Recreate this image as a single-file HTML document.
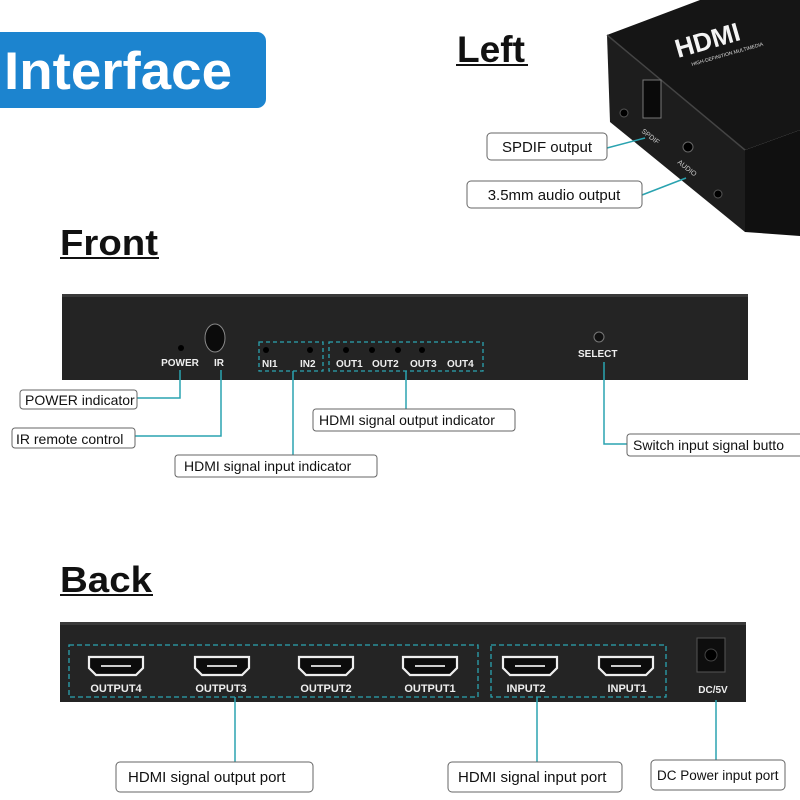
<!DOCTYPE html>
<html><head><meta charset="utf-8"><style>
html,body{margin:0;padding:0;background:#fff;}
svg{display:block;font-family:"Liberation Sans",Arial,sans-serif;}
</style></head><body>
<svg width="800" height="800" viewBox="0 0 800 800" xmlns="http://www.w3.org/2000/svg">
<defs>
<symbol id="hd" viewBox="0 0 58 22">
<path d="M2,2 H56 V13 L49,20 H9 L2,13 Z" fill="#0c0c0c" stroke="#eee" stroke-width="2.2"/>
<rect x="14" y="10" width="30" height="2" fill="#ccc"/>
</symbol>
</defs>
<!-- Interface -->
<rect x="-10" y="32" width="276" height="76" rx="9" fill="#1c84cf"/>
<text x="4" y="89" font-size="53" font-weight="bold" fill="#fff" textLength="228" lengthAdjust="spacingAndGlyphs">Interface</text>
<!-- Left -->
<text x="457" y="62" font-size="37" font-weight="bold" fill="#111" textLength="68" lengthAdjust="spacingAndGlyphs">Left</text>
<rect x="456" y="64" width="72" height="2" fill="#111"/>
<!-- device -->
<polygon points="607,35 700,0 800,0 800,130 745,150" fill="#151515"/>
<polygon points="607,35 745,150 745,232 610,122" fill="#1d1d1d"/>
<polygon points="745,150 800,130 800,236 745,232" fill="#101010"/>
<line x1="607" y1="35" x2="745" y2="150" stroke="#444" stroke-width="1.5"/>
<text x="0" y="0" font-size="26" font-weight="bold" fill="#f4f4f4" transform="translate(678,58) rotate(-16)">HDMI</text>
<text x="0" y="0" font-size="5" fill="#ddd" transform="translate(692,66) rotate(-16)">HIGH-DEFINITION MULTIMEDIA</text>
<rect x="643" y="80" width="18" height="38" fill="#0a0a0a" stroke="#777" stroke-width="1"/>
<circle cx="624" cy="113" r="4" fill="#000" stroke="#555"/>
<circle cx="688" cy="147" r="5" fill="#000" stroke="#666"/>
<circle cx="718" cy="194" r="4" fill="#000" stroke="#555"/>
<text x="0" y="0" font-size="7" fill="#ccc" transform="translate(641,132) rotate(38)">SPDIF</text>
<text x="0" y="0" font-size="7" fill="#ccc" transform="translate(677,163) rotate(38)">AUDIO</text>
<line x1="607" y1="148" x2="645" y2="138" stroke="#2aa3b0" stroke-width="1.5"/>
<line x1="642" y1="195" x2="686" y2="178" stroke="#2aa3b0" stroke-width="1.5"/>
<rect x="487" y="133" width="120" height="27" rx="4" fill="#fff" stroke="#666"/>
<text x="547" y="152" font-size="15" text-anchor="middle" fill="#111">SPDIF output</text>
<rect x="467" y="181" width="175" height="27" rx="4" fill="#fff" stroke="#666"/>
<text x="554" y="200" font-size="15" text-anchor="middle" fill="#111">3.5mm audio output</text>
<!-- Front -->
<text x="60" y="255" font-size="36" font-weight="bold" fill="#111" textLength="98" lengthAdjust="spacingAndGlyphs">Front</text>
<rect x="60" y="257" width="99" height="2" fill="#111"/>
<rect x="62" y="294" width="686" height="86" fill="#242424"/>
<rect x="62" y="294" width="686" height="3" fill="#3a3a3a"/>
<circle cx="181" cy="348" r="3" fill="#000"/>
<ellipse cx="215" cy="338" rx="10" ry="14" fill="#0b0b0b" stroke="#888" stroke-width="1"/>
<text x="180" y="366" font-size="10" font-weight="bold" fill="#eee" text-anchor="middle">POWER</text>
<text x="219" y="366" font-size="10" font-weight="bold" fill="#eee" text-anchor="middle">IR</text>
<rect x="259" y="342" width="64" height="29" fill="none" stroke="#2aa3b0" stroke-width="1.3" stroke-dasharray="4,3"/>
<rect x="329" y="342" width="154" height="29" fill="none" stroke="#2aa3b0" stroke-width="1.3" stroke-dasharray="4,3"/>
<g fill="#000"><circle cx="266" cy="350" r="3"/><circle cx="310" cy="350" r="3"/><circle cx="346" cy="350" r="3"/><circle cx="372" cy="350" r="3"/><circle cx="398" cy="350" r="3"/><circle cx="422" cy="350" r="3"/></g>
<g font-size="10" font-weight="bold" fill="#eee">
<text x="262" y="367">NI1</text><text x="300" y="367">IN2</text>
<text x="336" y="367">OUT1</text><text x="372" y="367">OUT2</text><text x="410" y="367">OUT3</text><text x="447" y="367">OUT4</text>
<text x="578" y="357">SELECT</text></g>
<circle cx="599" cy="337" r="5" fill="#111" stroke="#777"/>
<g stroke="#2aa3b0" stroke-width="1.5" fill="none">
<polyline points="180,370 180,398 137,398"/>
<polyline points="221,370 221,436 135,436"/>
<polyline points="293,371 293,455"/>
<polyline points="406,371 406,409"/>
<polyline points="604,362 604,444 627,444"/>
</g>
<g fill="#fff" stroke="#666"><rect x="20" y="390" width="117" height="19" rx="3"/><rect x="12" y="428" width="123" height="20" rx="3"/><rect x="175" y="455" width="202" height="22" rx="3"/><rect x="313" y="409" width="202" height="22" rx="3"/><rect x="627" y="434" width="180" height="22" rx="3"/></g>
<g font-size="14" fill="#111">
<text x="25" y="405">POWER  indicator</text>
<text x="16" y="444">IR remote control</text>
<text x="184" y="471">HDMI signal input indicator</text>
<text x="319" y="425">HDMI signal output indicator</text>
<text x="633" y="450">Switch input signal butto</text></g>
<!-- Back -->
<text x="60" y="592" font-size="36" font-weight="bold" fill="#111" textLength="92" lengthAdjust="spacingAndGlyphs">Back</text>
<rect x="60" y="594" width="93" height="2" fill="#111"/>
<rect x="60" y="622" width="686" height="80" fill="#242424"/>
<rect x="60" y="622" width="686" height="3" fill="#3a3a3a"/>
<rect x="69" y="645" width="409" height="52" fill="none" stroke="#2aa3b0" stroke-width="1.3" stroke-dasharray="5,3"/>
<rect x="491" y="645" width="175" height="52" fill="none" stroke="#2aa3b0" stroke-width="1.3" stroke-dasharray="5,3"/>
<use href="#hd" x="87" y="655" width="58" height="22"/>
<use href="#hd" x="193" y="655" width="58" height="22"/>
<use href="#hd" x="297" y="655" width="58" height="22"/>
<use href="#hd" x="401" y="655" width="58" height="22"/>
<use href="#hd" x="501" y="655" width="58" height="22"/>
<use href="#hd" x="597" y="655" width="58" height="22"/>
<rect x="697" y="638" width="28" height="34" fill="#0e0e0e" stroke="#555"/>
<circle cx="711" cy="655" r="6" fill="#000" stroke="#444"/>
<g font-size="11" font-weight="bold" fill="#eee" text-anchor="middle">
<text x="116" y="692">OUTPUT4</text><text x="221" y="692">OUTPUT3</text><text x="326" y="692">OUTPUT2</text><text x="430" y="692">OUTPUT1</text>
<text x="526" y="692">INPUT2</text><text x="627" y="692">INPUT1</text><text x="713" y="693" font-size="10">DC/5V</text></g>
<g stroke="#2aa3b0" stroke-width="1.5">
<line x1="235" y1="697" x2="235" y2="762"/><line x1="537" y1="697" x2="537" y2="762"/><line x1="716" y1="700" x2="716" y2="762"/></g>
<g fill="#fff" stroke="#666"><rect x="116" y="762" width="197" height="30" rx="4"/><rect x="448" y="762" width="174" height="30" rx="4"/><rect x="651" y="760" width="134" height="30" rx="4"/></g>
<g font-size="15" fill="#111">
<text x="128" y="782">HDMI signal output port</text>
<text x="458" y="782">HDMI signal input port</text>
<text x="657" y="780" font-size="13.5">DC Power input port</text></g>
</svg>
</body></html>
